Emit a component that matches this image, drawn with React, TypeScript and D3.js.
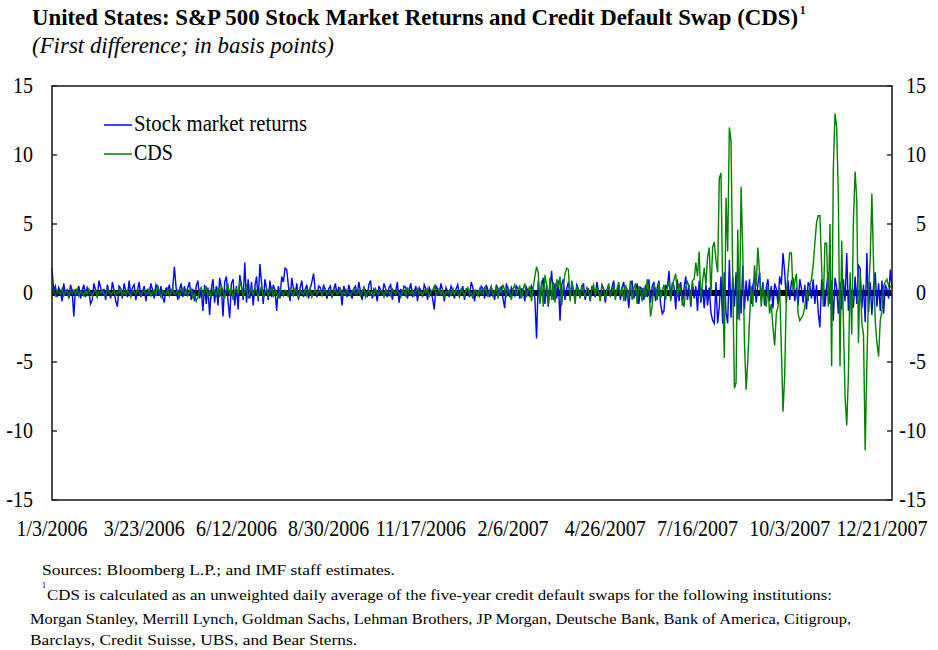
import React from "react";
import * as d3 from "d3";

// daily first differences, 1/3/2006 .. 1/2/2008 (one value per trading day)
const stockReturns = [
  1.8, 0.2, 0.5, -0.3, 0.4, 0.1, -0.6, 0.7, -0.2, 0.3, -0.4, 0.6, 0.2, -1.7, 0.3, -0.2, 0.5, -0.4, 0.2, 0.6,
  -0.3, 0.4, 0.1, -0.8, -0.5, 0.7, 0.2, -0.3, 0.9, 0.4, -0.2, 0.3, -0.5, 0.6, 0.1, -0.4, 0.8, 0.2, -0.6, -1.0,
  0.5, 0.3, -0.4, 0.7, 0.1, -0.3, 0.9, -0.2, 0.4, 0.6, -0.5, 0.2, 0.8, -0.3, 0.1, 0.5, -0.6, 0.3, -0.2, 0.7,
  0.2, -0.4, 0.6, 0.3, -0.2, 0.5, -0.3, -0.7, 0.4, 0.1, 0.6, -0.2, 0.3, 1.9, 0.4, -0.5, 0.2, 0.7, -0.3, 0.5,
  -0.2, 0.4, 0.8, -0.5, 0.3, -0.6, 0.5, 0.9, -0.4, 0.2, -1.3, 0.6, -0.8, 0.4, -1.6, 0.3, 1.0, -0.7, 0.5, -0.9,
  1.1, 0.4, -1.7, 0.8, 1.2, -0.6, -1.8, 0.7, 1.0, -0.9, 0.5, -1.2, 1.3, 0.6, -0.5, 2.2, -0.7, 1.0, -0.4, 0.8,
  -0.9, 0.5, 1.2, -0.6, 2.1, 0.7, -0.8, 1.0, 0.3, -0.5, 0.9, -0.3, 0.6, 0.2, -1.3, 0.5, -0.4, 1.2, 0.8, 1.8,
  1.7, 0.5, -0.6, 1.1, 0.3, -0.2, 0.7, -0.5, 0.4, 0.9, -0.3, 0.2, 0.6, -0.4, 0.3, 0.8, 1.4, 0.2, -0.3, 0.5,
  0.4, -0.2, 0.6, 0.1, -0.4, 0.3, 0.5, -0.3, 0.2, 0.7, -0.1, 0.4, 0.3, -0.9, 0.5, 0.2, -0.3, 0.6, 0.1, -0.4,
  0.3, 0.5, -0.2, 0.8, 0.1, -0.5, 0.4, 0.2, -0.3, 0.6, 0.9, -0.4, 0.3, 0.1, -0.6, 0.5, 0.2, -0.2, 0.7, 0.3,
  -0.3, 0.4, 0.6, -0.5, 0.2, 0.1, 0.8, -0.7, 0.3, -0.2, 0.5, 0.4, -0.4, 0.2, 0.7, -0.3, 0.1, 0.5, -0.6, 0.4,
  0.2, -0.3, 0.6, 0.3, -0.5, 0.4, 0.1, -0.4, -1.2, 0.5, 0.3, -0.2, 0.7, 0.2, -0.6, 0.4, 0.1, -0.3, 0.5, 0.2,
  -0.4, 0.3, 0.6, -0.2, 0.1, 0.5, -0.5, 0.3, 0.2, -0.3, 0.8, 0.4, -0.6, 0.2, 0.1, -0.2, 0.5, 0.3, -0.4, 0.6,
  0.2, -0.3, 0.4, 0.1, -0.5, 0.6, 0.3, -0.2, 0.5, -0.4, -1.1, 0.7, 0.2, -0.3, 0.4, 0.1, -0.2, 0.5, 0.3, -0.4,
  0.3, 0.2, -0.6, 0.4, 0.1, -0.3, 0.5, 0.2, -0.4, -3.3, 0.9, -0.7, 0.5, 1.1, -0.8, 0.6, -1.0, 0.4, 1.6, -0.5,
  0.7, -0.4, 0.9, -2.0, 0.6, 1.0, -0.5, 0.3, 0.8, -0.3, 0.5, 0.2, -0.4, 0.6, 0.3, -0.2, 0.4, 0.7, -0.5, 0.2,
  0.3, -0.6, 0.5, 0.2, -0.3, 0.8, 0.1, -0.4, 0.6, 0.3, -0.7, 0.2, 0.5, -0.2, 0.4, 0.9, -0.3, 0.1, 0.6, -0.5,
  0.4, 0.8, -0.6, 0.3, -1.1, 0.5, 0.9, -0.4, 0.2, 0.7, -0.8, 0.4, 0.3, -0.5, 0.6, -0.3, 1.0, -0.7, 0.5, 0.8,
  -0.6, 0.4, 0.9, -0.8, -1.5, -1.3, 0.6, 0.3, 1.6, -0.4, 0.7, 0.5, -1.2, 1.0, -0.6, 0.8, -0.9, 0.4, 1.2, -0.5,
  0.6, -1.0, 0.8, -0.4, 0.5, -1.3, 0.9, -0.7, 0.3, -1.1, 0.6, -0.9, 0.4, -1.4, -2.0, -2.2, 0.8, -2.2, -1.0, 1.2,
  -2.2, 1.5, -1.4, -2.2, 2.4, -1.8, 1.2, -1.0, 1.5, -1.9, 0.8, -1.5, 2.0, -1.2, 0.9, -0.6, 1.0, -0.8, 0.5, 1.2,
  -0.7, 0.6, 1.5, -0.5, 0.8, -0.9, 0.4, 1.0, -0.6, 0.5, -1.1, 0.7, 0.3, -0.8, 1.2, 0.6, 2.9, 1.5, -0.7, 0.9,
  -0.5, 0.8, 1.1, -0.6, 0.4, -0.9, 1.0, 0.3, -0.7, 0.6, -1.2, 0.8, 0.5, -0.4, 1.0, -0.8, 0.6, -1.4, -2.5, 0.9,
  0.7, -1.0, 0.5, 1.5, -0.8, 0.9, -2.0, 1.1, 0.4, -1.5, 0.8, -1.2, 1.0, -0.6, 2.9, -1.3, 0.7, -0.9, -1.0, 1.2,
  -0.8, 2.0, 1.8, -1.1, 0.6, -2.1, 2.9, -1.4, 0.8, -1.6, 0.5, 1.5, -1.0, 0.7, -1.3, 0.9, -1.5, 0.6, 0.3, -0.4,
  1.7, 0.4,
];

const cdsChanges = [
  0.3, 0.1, -0.2, 0.2, 0.0, -0.1, 0.3, -0.2, 0.1, 0.2, -0.3, 0.1, 0.0, 0.2, -0.1, 0.3, -0.2, 0.1, 0.0, -0.2,
  0.2, -0.1, 0.3, 0.0, -0.2, 0.1, 0.2, -0.3, 0.1, 0.0, 0.2, -0.1, -0.2, 0.3, 0.1, -0.1, 0.0, 0.2, -0.2, 0.1,
  0.0, 0.3, -0.2, 0.1, -0.1, 0.2, 0.0, -0.3, 0.2, 0.1, -0.1, 0.3, 0.0, -0.2, 0.1, 0.2, -0.1, 0.0, 0.3, -0.2,
  0.1, 0.2, -0.2, 0.6, 0.1, -0.3, 0.2, 0.0, -0.1, 0.3, -0.2, 0.1, 0.4, -0.1, 0.0, 0.2, -0.3, 0.1, 0.3, -0.1,
  0.2, -0.2, 0.1, 0.3, -0.4, 0.0, -0.6, -0.3, 0.2, 0.4, -0.2, 0.1, 0.5, -0.3, 0.2, -0.4, 0.3, 0.1, -0.2, 0.4,
  -0.3, 0.5, 0.2, -0.4, 0.3, 0.6, -0.2, 0.4, -0.5, 0.2, 0.3, -0.1, 0.9, 0.4, -0.3, 0.2, 0.5, -0.4, 0.1, 0.3,
  -0.2, 0.4, 0.1, -0.3, 0.2, 0.5, -0.4, 0.0, 0.3, -0.2, 0.1, 0.4, -0.3, 0.2, 0.0, -0.4, 0.3, 0.1, -0.2, 0.2,
  0.1, -0.3, 0.4, 0.0, -0.2, 0.3, 0.1, -0.4, 0.2, 0.0, -0.1, 0.3, -0.2, 0.1, 0.4, -0.3, 0.0, 0.2, -0.1, 0.1,
  0.2, -0.2, 0.1, 0.3, -0.1, 0.0, 0.2, -0.3, 0.1, 0.2, -0.1, 0.0, 0.3, -0.2, 0.1, -0.1, 0.2, 0.0, -0.2, 0.1,
  0.3, -0.1, 0.0, 0.2, -0.2, 0.1, 0.4, -0.3, 0.0, 0.2, -0.1, 0.1, -0.2, 0.3, 0.0, -0.1, 0.2, 0.1, -0.3, 0.2,
  0.0, 0.1, -0.2, 0.3, 0.1, -0.1, 0.2, 0.0, -0.3, 0.2, 0.1, -0.2, 0.4, 0.0, -0.1, 0.2, -0.2, 0.1, 0.3, -0.1,
  0.1, -0.2, 0.2, 0.0, 0.3, -0.3, 0.1, 0.2, 0.5, -0.2, 0.0, 0.3, -0.1, 0.2, -0.3, 0.1, 0.0, 0.2, -0.2, 0.4,
  -0.1, 0.2, 0.0, -0.3, 0.3, 0.1, -0.2, 0.2, 0.4, -0.1, 0.0, -0.4, 0.2, 0.1, -0.2, 0.3, 0.0, -0.1, 0.4, 0.2,
  -0.3, 0.2, 0.5, -0.2, 0.1, 0.4, -0.4, 0.3, 0.0, 0.6, 0.2, -0.3, 0.4, 0.1, -0.5, 0.3, 0.6, -0.2, 0.2, 0.5,
  -0.4, 0.3, 0.7, -0.3, 0.2, 0.5, -0.6, 0.4, 1.2, 1.9, 1.5, -0.8, 0.9, -1.0, 1.3, 0.6, -0.9, 1.1, -0.5, 0.8,
  -0.7, 1.0, 0.4, 1.2, -0.9, 0.6, 1.4, 1.8, 1.7, -0.6, 0.9, 0.3, -0.8, 0.5, 0.2, -0.4, 0.6, 0.1, -0.3, 0.4,
  0.2, -0.5, 0.3, 0.6, -0.2, 0.4, 0.1, -0.6, 0.5, 0.3, -0.4, 0.2, 0.7, -0.3, 0.1, 0.5, -0.5, 0.3, 0.8, -0.2,
  0.4, -0.6, 0.6, 0.2, -0.4, 0.9, -0.5, 0.3, 0.7, -0.8, 0.5, 0.2, -0.6, 0.4, -0.3, 1.0, 0.3, -1.7, -0.9, 0.6,
  0.3, -0.5, 0.8, -0.4, 0.2, 0.6, -0.5, 0.4, 0.9, -0.6, 0.5, 1.0, 1.4, -0.3, 0.7, 0.2, -0.6, -1.0, 0.4, 0.8,
  0.5, -0.7, 0.9, 1.0, 2.2, 1.2, 3.0, -0.5, 0.8, 1.8, 0.6, 2.6, 3.3, -0.2, 3.3, 3.7, 2.4, 1.5, 8.3, 8.7,
  0.5, -4.7, 6.9, 3.0, 12.0, 11.0, 1.0, -6.9, -6.5, 4.6, -2.0, 7.7, 3.0, -3.6, -7.0, -4.9, -2.0, 0.5, -1.0, 2.0,
  0.5, 3.3, 1.5, -1.0, 0.5, -0.3, -1.0, 0.5, -1.5, -0.8, -2.5, -3.8, -1.5, -1.0, 0.4, -4.0, -8.6, -6.0, 0.0, 1.5,
  2.9, 2.9, 0.0, 0.8, 1.4, -1.5, -2.0, -1.8, -1.6, -1.0, 0.2, -0.6, 0.5, 1.0, 2.0, 3.6, 5.1, 5.6, 5.6, 2.0,
  -1.0, 3.6, 3.6, -1.0, 5.0, -5.3, 9.0, 13.0, 12.0, 7.0, -5.3, 3.8, -2.0, -7.5, -9.6, -6.0, 1.5, -3.0, 5.3, 8.8,
  6.7, -3.6, 1.5, -2.2, -3.0, -11.4, -5.3, 0.0, 2.5, 7.2, 2.0, -2.0, -3.6, -4.6, -2.0, -1.3, 0.5, 0.8, 1.0, 0.5,
  0.5, 0.3,
];

const dateLabels = [
  "1/3/2006", "3/23/2006", "6/12/2006", "8/30/2006", "11/17/2006",
  "2/6/2007", "4/26/2007", "7/16/2007", "10/3/2007", "12/21/2007",
];
const labelEvery = 55; // trading days between labels
const yTicks = [15, 10, 5, 0, -5, -10, -15];

const title = "United States: S&P 500 Stock Market Returns and Credit Default Swap (CDS)";
const subtitle = "(First difference; in basis points)";
const notes = [
  "Sources: Bloomberg L.P.; and IMF staff estimates.",
  "CDS is calculated as an unweighted daily average of the five-year credit default swaps for the following institutions:",
  "Morgan Stanley, Merrill Lynch, Goldman Sachs, Lehman Brothers, JP Morgan, Deutsche Bank, Bank of America, Citigroup,",
  "Barclays, Credit Suisse, UBS, and Bear Sterns.",
];

const W = 938;
const H = 650;
const left = 52;
const right = 892;
const top = 86;
const bottom = 500;
const SY = 1.15; // the picture's text is a little taller than it is wide
const serif = "'Liberation Serif', 'Times New Roman', serif";

function T({ x, y, size = 20, anchor = "start", weight = "normal", italic = false, len, children }: any) {
  return (
    <text
      transform={`translate(${x},${y}) scale(1,${SY})`}
      fontFamily={serif}
      fontSize={size}
      fontWeight={weight}
      fontStyle={italic ? "italic" : "normal"}
      textAnchor={anchor}
      fill="#000"
      textLength={len}
      lengthAdjust={len ? "spacingAndGlyphs" : undefined}
    >
      {children}
    </text>
  );
}

export default function App() {
  const x = d3.scaleLinear().domain([0, 501]).range([left, right]);
  const y = d3.scaleLinear().domain([-15, 15]).range([bottom, top]);

  const line = d3
    .line<number>()
    .x((d, i) => x(i))
    .y(d => y(d));

  return (
    <svg
      width={W}
      height={H}
      style={{ position: "absolute", left: 0, top: 0, background: "#fff" }}
    >
      <T x={32} y={25} weight="bold" len={766}>{title}</T>
      <T x={800} y={14} size={11} weight="bold">1</T>
      <T x={32} y={53} italic len={302}>{subtitle}</T>

      {/* zero line under the series */}
      <line x1={left} x2={right} y1={y(0)} y2={y(0)} stroke="#000" strokeWidth={6} />

      <path d={line(stockReturns) || ""} fill="none" stroke="#0000ff" strokeWidth={1.4} />
      <path d={line(cdsChanges) || ""} fill="none" stroke="#008000" strokeWidth={1.4} />

      <rect x={left} y={top} width={right - left} height={bottom - top} fill="none" stroke="#222" strokeWidth={1.6} />

      {yTicks.map(t => (
        <g key={t}>
          <line x1={left} x2={left + 5} y1={y(t)} y2={y(t)} stroke="#222" strokeWidth={1.4} />
          <line x1={right - 5} x2={right} y1={y(t)} y2={y(t)} stroke="#222" strokeWidth={1.4} />
          <T x={33} y={y(t) + 7} anchor="end">{t}</T>
          <T x={926} y={y(t) + 7} anchor="end">{t}</T>
        </g>
      ))}

      {dateLabels.map((lab, k) => (
        <T key={lab} x={x(k * labelEvery)} y={536} anchor="middle">{lab}</T>
      ))}

      {/* legend */}
      <line x1={104} x2={132} y1={125} y2={125} stroke="#0000ff" strokeWidth={1.5} />
      <T x={134} y={131} len={173}>Stock market returns</T>
      <line x1={104} x2={132} y1={154} y2={154} stroke="#008000" strokeWidth={1.5} />
      <T x={134} y={160}>CDS</T>

      {/* notes */}
      <T x={42} y={575} size={13} len={353}>{notes[0]}</T>
      <T x={42} y={588} size={8}>1</T>
      <T x={47} y={600} size={13} len={785}>{notes[1]}</T>
      <T x={30} y={624} size={13} len={821}>{notes[2]}</T>
      <T x={30} y={645} size={13} len={327}>{notes[3]}</T>
    </svg>
  );
}
